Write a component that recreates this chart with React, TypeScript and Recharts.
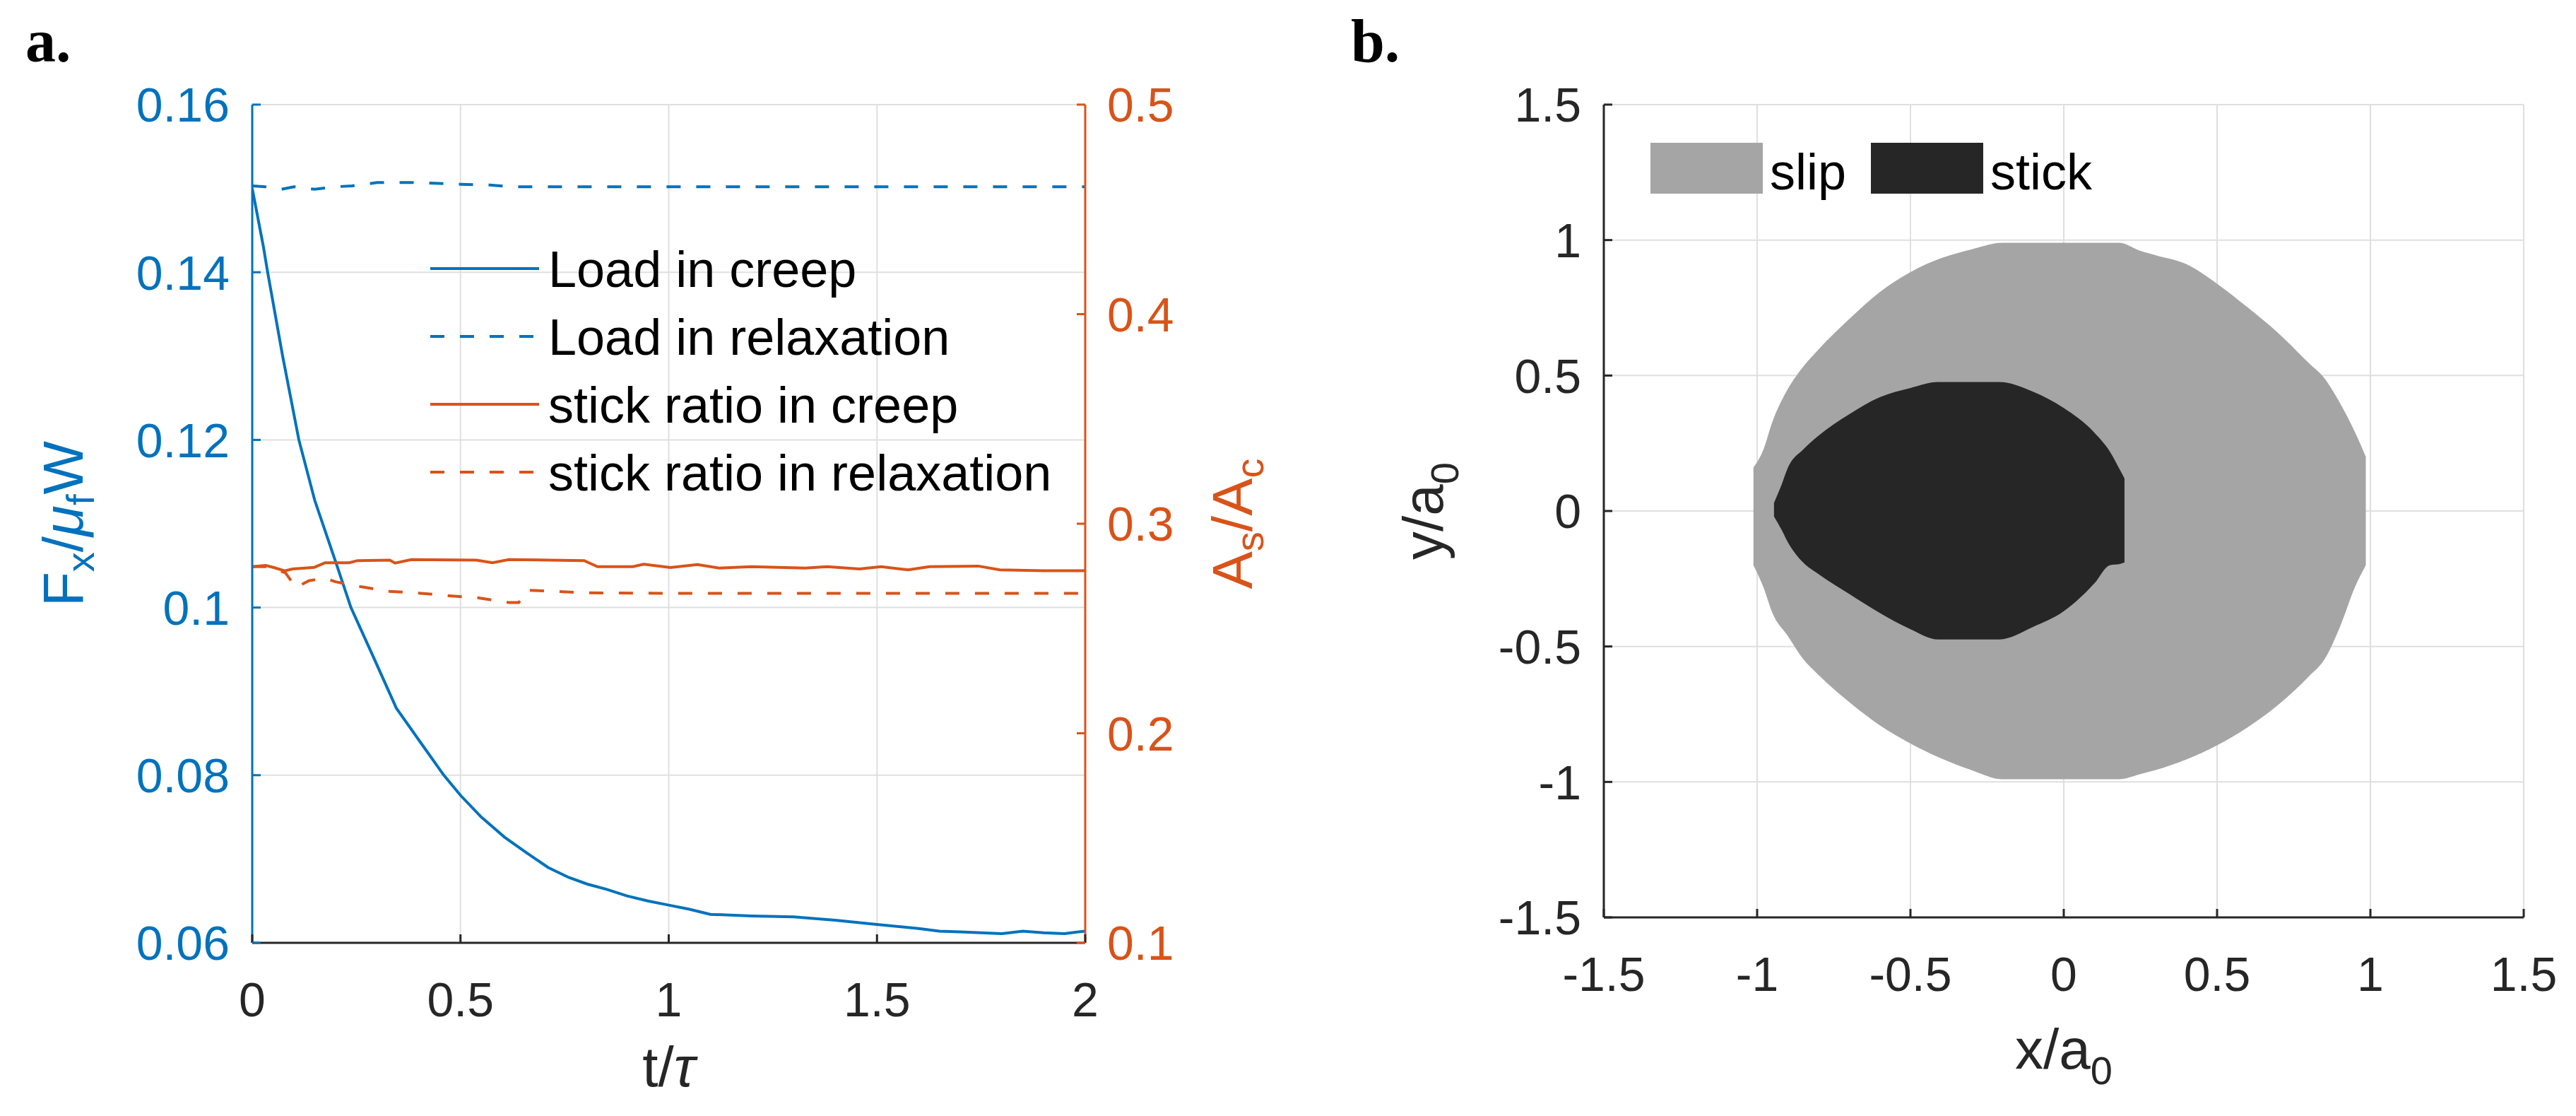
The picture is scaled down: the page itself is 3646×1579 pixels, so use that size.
import { ComposedChart, Line, Area, XAxis, YAxis, CartesianGrid, Legend } from 'recharts';

const FONT = '"Liberation Sans", Arial, Helvetica, sans-serif';
const SERIF = '"Liberation Serif", "Times New Roman", serif';
const BLUE = '#0072BD';
const ORANGE = '#D95319';
const INK = '#262626';
const GRID = '#dfdfdf';
const SLIP_GRAY = '#a5a5a5';
const STICK_DARK = '#262626';

const TICK_FONT = 68;
const LEGEND_FONT = 72;
const TITLE_FONT = 80;
const SUB_FONT = 56;
const TICK_LEN = 12;
const AXIS_W = 3;
const LINE_W = 4;

// ---- panel a: load and stick ratio vs time ----
const timeTicks = [0, 0.5, 1, 1.5, 2];
const timeTickLabels = ['0', '0.5', '1', '1.5', '2'];
const loadTicks = [0.06, 0.08, 0.1, 0.12, 0.14, 0.16];
const loadTickLabels = ['0.06', '0.08', '0.1', '0.12', '0.14', '0.16'];
const ratioTicks = [0.1, 0.2, 0.3, 0.4, 0.5];
const ratioTickLabels = ['0.1', '0.2', '0.3', '0.4', '0.5'];

const creepLoadT = [0, 0.027, 0.037, 0.073, 0.112, 0.15, 0.2, 0.237, 0.29, 0.346, 0.4, 0.46, 0.5, 0.55, 0.606, 0.66, 0.71, 0.76, 0.805, 0.85, 0.9, 0.95, 1.0, 1.05, 1.1, 1.2, 1.3, 1.4, 1.5, 1.6, 1.65, 1.7, 1.8, 1.85, 1.9, 1.95, 2.0];
const creepLoad = [0.15, 0.143, 0.14, 0.13, 0.12, 0.1128, 0.1055, 0.1, 0.0942, 0.088, 0.0842, 0.08, 0.0776, 0.075, 0.0726, 0.0707, 0.069, 0.0678, 0.067, 0.0664, 0.0656, 0.065, 0.0645, 0.064, 0.0634, 0.0632, 0.0631, 0.0627, 0.0622, 0.0617, 0.0614, 0.0613, 0.0611, 0.0614, 0.0612, 0.0611, 0.0614];

const relaxLoadT = [0, 0.03, 0.07, 0.1, 0.15, 0.2, 0.24, 0.3, 0.4, 0.5, 0.57, 0.62, 0.7, 1.0, 1.5, 2.0];
const relaxLoad = [0.1503, 0.1502, 0.1499, 0.1502, 0.1499, 0.1502, 0.1503, 0.1507, 0.1507, 0.1505, 0.1504, 0.1502, 0.1502, 0.1502, 0.1502, 0.1502];

const creepStickT = [0, 0.032, 0.052, 0.078, 0.097, 0.149, 0.175, 0.233, 0.253, 0.33, 0.343, 0.382, 0.538, 0.577, 0.616, 0.797, 0.829, 0.914, 0.94, 1.004, 1.069, 1.121, 1.199, 1.328, 1.38, 1.458, 1.51, 1.575, 1.626, 1.743, 1.795, 1.899, 2.0];
const creepStick = [0.2795, 0.2801, 0.2791, 0.2775, 0.2784, 0.2792, 0.2814, 0.2814, 0.2824, 0.2826, 0.2812, 0.2829, 0.2826, 0.2814, 0.2829, 0.2824, 0.2795, 0.2795, 0.2807, 0.2791, 0.2805, 0.2788, 0.2795, 0.2788, 0.2795, 0.2784, 0.2795, 0.278, 0.2795, 0.2798, 0.278, 0.2776, 0.2776];

const relaxStickT = [0, 0.04, 0.08, 0.105, 0.136, 0.175, 0.2, 0.26, 0.33, 0.4, 0.473, 0.544, 0.616, 0.64, 0.661, 0.732, 0.804, 1.0, 1.5, 2.0];
const relaxStick = [0.2795, 0.2795, 0.2765, 0.2695, 0.2728, 0.274, 0.2723, 0.27, 0.2677, 0.2669, 0.2656, 0.2646, 0.2624, 0.2624, 0.2683, 0.2677, 0.267, 0.2668, 0.2668, 0.2668];

// ---- panel b: slip / stick zones of the contact ----
const posTicks = [-1.5, -1, -0.5, 0, 0.5, 1, 1.5];
const posTickLabels = ['-1.5', '-1', '-0.5', '0', '0.5', '1', '1.5'];

const slipX = [-1.012, -0.98, -0.95, -0.9, -0.85, -0.8, -0.7, -0.6, -0.5, -0.4, -0.3, -0.2, -0.1, 0, 0.1, 0.18, 0.25, 0.3, 0.4, 0.5, 0.6, 0.7, 0.8, 0.85, 0.9, 0.95, 0.985];
const slipLow = [-0.2, -0.28, -0.377, -0.461, -0.546, -0.605, -0.705, -0.791, -0.858, -0.913, -0.957, -0.99, -0.99, -0.99, -0.99, -0.99, -0.971, -0.956, -0.917, -0.865, -0.798, -0.715, -0.61, -0.548, -0.43, -0.28, -0.2];
const slipHigh = [0.16, 0.225, 0.33, 0.45, 0.532, 0.596, 0.708, 0.808, 0.882, 0.933, 0.966, 0.99, 0.99, 0.99, 0.99, 0.99, 0.96, 0.944, 0.911, 0.839, 0.751, 0.656, 0.545, 0.49, 0.4, 0.29, 0.2];

const stickX = [-0.945, -0.92, -0.9, -0.85, -0.8, -0.7, -0.6, -0.5, -0.41, -0.3, -0.21, -0.1, 0, 0.1, 0.15, 0.185, 0.198];
const stickLow = [-0.02, -0.07, -0.115, -0.19, -0.233, -0.306, -0.376, -0.436, -0.474, -0.474, -0.474, -0.428, -0.37, -0.267, -0.2, -0.195, -0.19];
const stickHigh = [0.03, 0.098, 0.159, 0.227, 0.278, 0.357, 0.42, 0.454, 0.476, 0.476, 0.476, 0.44, 0.38, 0.289, 0.22, 0.148, 0.12];

const creepLoadData = creepLoadT.map((t, i) => ({ t, v: creepLoad[i] }));
const relaxLoadData = relaxLoadT.map((t, i) => ({ t, v: relaxLoad[i] }));
const creepStickData = creepStickT.map((t, i) => ({ t, v: creepStick[i] }));
const relaxStickData = relaxStickT.map((t, i) => ({ t, v: relaxStick[i] }));
const slipData = slipX.map((x, i) => ({ x, range: [slipLow[i], slipHigh[i]] }));
const stickData = stickX.map((x, i) => ({ x, range: [stickLow[i], stickHigh[i]] }));

const lineDash: Record<string, string | undefined> = {
  'Load in creep': undefined,
  'Load in relaxation': '20 22',
  'stick ratio in creep': undefined,
  'stick ratio in relaxation': '20 22',
};

interface TickProps {
  x?: number;
  y?: number;
  payload?: { value: number };
}

const labelFor = (ticks: number[], labels: string[], v?: number) => {
  const i = ticks.findIndex((t) => Math.abs(t - (v ?? NaN)) < 1e-9);
  return i >= 0 ? labels[i] : String(v);
};

const leftTick = (ticks: number[], labels: string[], color: string) => ({ x = 0, y = 0, payload }: TickProps) => (
  <g>
    <line x1={x} x2={x + TICK_LEN} y1={y} y2={y} stroke={color} strokeWidth={AXIS_W} />
    <text x={x - 32} y={y} dy="0.36em" textAnchor="end" fill={color} fontSize={TICK_FONT} fontFamily={FONT}>
      {labelFor(ticks, labels, payload?.value)}
    </text>
  </g>
);

const rightTick = (ticks: number[], labels: string[], color: string) => ({ x = 0, y = 0, payload }: TickProps) => (
  <g>
    <line x1={x} x2={x - TICK_LEN} y1={y} y2={y} stroke={color} strokeWidth={AXIS_W} />
    <text x={x + 31} y={y} dy="0.36em" textAnchor="start" fill={color} fontSize={TICK_FONT} fontFamily={FONT}>
      {labelFor(ticks, labels, payload?.value)}
    </text>
  </g>
);

const bottomTick = (ticks: number[], labels: string[]) => ({ x = 0, y = 0, payload }: TickProps) => (
  <g>
    <line x1={x} x2={x} y1={y} y2={y - TICK_LEN} stroke={INK} strokeWidth={AXIS_W} />
    <text x={x} y={y + 104} textAnchor="middle" fill={INK} fontSize={TICK_FONT} fontFamily={FONT}>
      {labelFor(ticks, labels, payload?.value)}
    </text>
  </g>
);

const topTick = ({ x = 0, y = 0 }: TickProps) => (
  <line x1={x} x2={x} y1={y} y2={y + TICK_LEN} stroke={INK} strokeWidth={AXIS_W} />
);

// axis titles, placed from the axis viewBox
const timeTitle = (props: any) => {
  const vb = props.viewBox;
  const cx = vb.x + vb.width / 2;
  const by = vb.y + 203;
  return (
    <text x={cx} y={by} textAnchor="middle" fill={INK} fontSize={TITLE_FONT} fontFamily={FONT}>
      t/<tspan fontStyle="italic">τ</tspan>
    </text>
  );
};

const loadTitle = (props: any) => {
  const vb = props.viewBox;
  const cx = vb.x + 117;
  const cy = vb.y + vb.height / 2;
  return (
    <text x={cx} y={cy} transform={`rotate(-90 ${cx} ${cy})`} textAnchor="middle" fill={BLUE} fontSize={TITLE_FONT} fontFamily={FONT}>
      F<tspan dy={16} fontSize={SUB_FONT}>x</tspan>
      <tspan dy={-16}>/</tspan>
      <tspan fontStyle="italic">μ</tspan>
      <tspan dy={16} fontSize={SUB_FONT}>f</tspan>
      <tspan dy={-16}>W</tspan>
    </text>
  );
};

const ratioTitle = (props: any) => {
  const vb = props.viewBox;
  const cx = vb.x + 236;
  const cy = vb.y + vb.height / 2;
  return (
    <text x={cx} y={cy} transform={`rotate(-90 ${cx} ${cy})`} textAnchor="middle" fill={ORANGE} fontSize={TITLE_FONT} fontFamily={FONT}>
      A<tspan dy={16} fontSize={SUB_FONT}>s</tspan>
      <tspan dy={-16}>/A</tspan>
      <tspan dy={16} fontSize={SUB_FONT}>c</tspan>
    </text>
  );
};

const xPosTitle = (props: any) => {
  const vb = props.viewBox;
  const cx = vb.x + vb.width / 2;
  const by = vb.y + 214;
  return (
    <text x={cx} y={by} textAnchor="middle" fill={INK} fontSize={TITLE_FONT} fontFamily={FONT}>
      x/a<tspan dy={22} fontSize={SUB_FONT}>0</tspan>
    </text>
  );
};

const yPosTitle = (props: any) => {
  const vb = props.viewBox;
  const cx = vb.x + 142;
  const cy = vb.y + vb.height / 2;
  return (
    <text x={cx} y={cy} transform={`rotate(-90 ${cx} ${cy})`} textAnchor="middle" fill={INK} fontSize={TITLE_FONT} fontFamily={FONT}>
      y/a<tspan dy={22} fontSize={SUB_FONT}>0</tspan>
    </text>
  );
};

function LoadLegend({ payload }: any) {
  const items: any[] = payload ?? [];
  return (
    <svg width={1000} height={400}>
      {items.map((it, i) => {
        const y = 50 + i * 96;
        return (
          <g key={it.value}>
            <line x1={9} x2={163} y1={y} y2={y} stroke={it.color} strokeWidth={LINE_W} strokeDasharray={lineDash[it.value]} />
            <text x={176} y={y} dy="0.36em" fill="#000" fontSize={LEGEND_FONT} fontFamily={FONT}>
              {it.value}
            </text>
          </g>
        );
      })}
    </svg>
  );
}

function RegionLegend({ payload }: any) {
  const items: any[] = payload ?? [];
  return (
    <svg width={700} height={140}>
      {items.map((it, i) => {
        const x0 = 36 + i * 312;
        return (
          <g key={it.value}>
            <rect x={x0} y={22} width={159} height={72} fill={it.color} />
            <text x={x0 + 169} y={88} fill="#000" fontSize={LEGEND_FONT} fontFamily={FONT}>
              {it.value}
            </text>
          </g>
        );
      })}
    </svg>
  );
}

function LoadPanel() {
  return (
    <ComposedChart width={1900} height={1579} margin={{ top: 148, right: 0, bottom: 0, left: 0 }}>
      <CartesianGrid stroke={GRID} strokeWidth={2} />
      <XAxis
        dataKey="t"
        type="number"
        domain={[0, 2]}
        ticks={timeTicks}
        interval={0}
        allowDataOverflow
        height={245}
        tickSize={0}
        tickMargin={0}
        tickLine={false}
        axisLine={{ stroke: INK, strokeWidth: AXIS_W }}
        tick={bottomTick(timeTicks, timeTickLabels)}
        label={timeTitle}
      />
      <XAxis
        xAxisId="top"
        orientation="top"
        dataKey="t"
        type="number"
        domain={[0, 2]}
        ticks={timeTicks}
        interval={0}
        allowDataOverflow
        height={0}
        tickSize={0}
        tickMargin={0}
        tickLine={false}
        axisLine={{ stroke: INK, strokeWidth: AXIS_W }}
        tick={topTick}
      />
      <YAxis
        type="number"
        domain={[0.06, 0.16]}
        ticks={loadTicks}
        interval={0}
        allowDataOverflow
        width={357}
        tickSize={0}
        tickMargin={0}
        tickLine={false}
        axisLine={{ stroke: BLUE, strokeWidth: AXIS_W }}
        tick={leftTick(loadTicks, loadTickLabels, BLUE)}
        label={loadTitle}
      />
      <YAxis
        yAxisId="ratio"
        orientation="right"
        type="number"
        domain={[0.1, 0.5]}
        ticks={ratioTicks}
        interval={0}
        allowDataOverflow
        width={364}
        tickSize={0}
        tickMargin={0}
        tickLine={false}
        axisLine={{ stroke: ORANGE, strokeWidth: AXIS_W }}
        tick={rightTick(ratioTicks, ratioTickLabels, ORANGE)}
        label={ratioTitle}
      />

      <Line
        data={creepLoadData}
        dataKey="v"
        name="Load in creep"
        type="linear"
        stroke={BLUE}
        strokeWidth={LINE_W}
        dot={false}
        activeDot={false}
        isAnimationActive={false}
      />
      <Line
        data={relaxLoadData}
        dataKey="v"
        name="Load in relaxation"
        type="linear"
        stroke={BLUE}
        strokeWidth={LINE_W}
        strokeDasharray="20 22"
        dot={false}
        activeDot={false}
        isAnimationActive={false}
      />
      <Line
        data={creepStickData}
        dataKey="v"
        yAxisId="ratio"
        name="stick ratio in creep"
        type="linear"
        stroke={ORANGE}
        strokeWidth={LINE_W}
        dot={false}
        activeDot={false}
        isAnimationActive={false}
      />
      <Line
        data={relaxStickData}
        dataKey="v"
        yAxisId="ratio"
        name="stick ratio in relaxation"
        type="linear"
        stroke={ORANGE}
        strokeWidth={LINE_W}
        strokeDasharray="20 22"
        dot={false}
        activeDot={false}
        isAnimationActive={false}
      />

      <Legend
        layout="vertical"
        align="center"
        verticalAlign="middle"
        wrapperStyle={{ left: 600, top: 330, width: 1000, height: 400 }}
        content={(p: any) => <LoadLegend payload={p.payload} />}
      />
    </ComposedChart>
  );
}

function ContactPanel() {
  return (
    <ComposedChart width={1746} height={1579} margin={{ top: 148, right: 74, bottom: 0, left: 0 }}>
      <CartesianGrid stroke={GRID} strokeWidth={2} />
      <XAxis
        dataKey="x"
        type="number"
        domain={[-1.5, 1.5]}
        ticks={posTicks}
        interval={0}
        allowDataOverflow
        height={281}
        tickSize={0}
        tickMargin={0}
        tickLine={false}
        axisLine={{ stroke: INK, strokeWidth: AXIS_W }}
        tick={bottomTick(posTicks, posTickLabels)}
        label={xPosTitle}
      />
      <YAxis
        type="number"
        domain={[-1.5, 1.5]}
        ticks={posTicks}
        interval={0}
        allowDataOverflow
        width={370}
        tickSize={0}
        tickMargin={0}
        tickLine={false}
        axisLine={{ stroke: INK, strokeWidth: AXIS_W }}
        tick={leftTick(posTicks, posTickLabels, INK)}
        label={yPosTitle}
      />

      <Area
        data={slipData}
        dataKey="range"
        name="slip"
        type="monotoneX"
        stroke="none"
        fill={SLIP_GRAY}
        fillOpacity={1}
        dot={false}
        activeDot={false}
        isAnimationActive={false}
      />
      <Area
        data={stickData}
        dataKey="range"
        name="stick"
        type="monotoneX"
        stroke="none"
        fill={STICK_DARK}
        fillOpacity={1}
        dot={false}
        activeDot={false}
        isAnimationActive={false}
      />

      <Legend
        layout="vertical"
        align="center"
        verticalAlign="middle"
        wrapperStyle={{ left: 400, top: 180, width: 700, height: 140 }}
        content={(p: any) => <RegionLegend payload={p.payload} />}
      />
    </ComposedChart>
  );
}

export default function App() {
  return (
    <div style={{ position: 'absolute', left: 0, top: 0, width: 3646, height: 1579, background: '#fff' }}>
      <div style={{ position: 'absolute', left: 0, top: 0 }}>
        <LoadPanel />
      </div>
      <div style={{ position: 'absolute', left: 1900, top: 0 }}>
        <ContactPanel />
      </div>
      <svg width={3646} height={120} style={{ position: 'absolute', left: 0, top: 0, pointerEvents: 'none' }}>
        <text x={36} y={87} fontFamily={SERIF} fontWeight="bold" fontSize={86} fill="#000">
          a.
        </text>
        <text x={1912} y={87} fontFamily={SERIF} fontWeight="bold" fontSize={86} fill="#000">
          b.
        </text>
      </svg>
    </div>
  );
}
